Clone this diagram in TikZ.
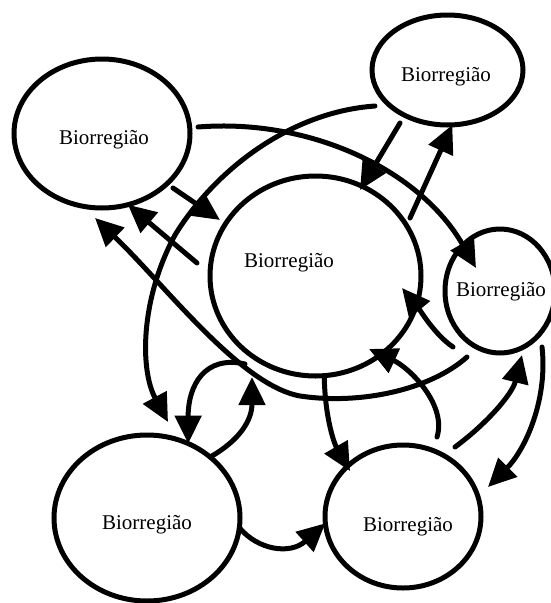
\documentclass[tikz,border=0pt]{standalone}
\usepackage{fontspec}
\setmainfont{Liberation Serif}
\usetikzlibrary{shapes.geometric,arrows.meta}

\begin{document}
\begin{tikzpicture}[x=1pt,y=-1pt,
  region/.style={draw, ellipse, line width=5pt, inner sep=0pt, outer sep=0pt},
  regionlabel/.style={font=\fontsize{21}{25}\selectfont, inner sep=0pt, anchor=base},
  flow/.style={line width=5pt, line cap=round, -{Triangle[length=28pt,width=26pt]}}]

\useasboundingbox (0,0) rectangle (551,603);

% the six regions
\node[region, minimum width=176pt, minimum height=149pt] (tl)  at (102,133.5) {};
\node[region, minimum width=151pt, minimum height=110pt] (tr)  at (447.5,70) {};
\node[region, minimum width=211pt, minimum height=200pt] (ctr) at (315.5,276) {};
\node[region, minimum width=110pt, minimum height=124pt] (rt)  at (500,291) {};
\node[region, minimum width=186pt, minimum height=166pt] (bl)  at (147,518) {};
\node[region, minimum width=156pt, minimum height=143pt] (br)  at (403,516.5) {};

\node[regionlabel] (tlText)  at (104,144) {Biorregião};
\node[regionlabel] (trText)  at (446,81)  {Biorregião};
\node[regionlabel] (ctrText) at (289,267) {Biorregião};
\node[regionlabel] (rtText)  at (501,296) {Biorregião};
\node[regionlabel] (blText)  at (147,529) {Biorregião};
\node[regionlabel] (brText)  at (408,531) {Biorregião};

% free ends of the flows
\coordinate (a0) at (198,127);  \coordinate (a1) at (476,268);
\coordinate (b0) at (375,106);  \coordinate (bm) at (175,235); \coordinate (b1) at (168,422);
\coordinate (c0) at (173,188);  \coordinate (c1) at (220,220);
\coordinate (d0) at (197,263);
\coordinate (e0) at (467,357);  \coordinate (em) at (300,396); \coordinate (e1) at (95,218);
\coordinate (f0) at (400,123);  \coordinate (f1) at (360,190);
\coordinate (g0) at (410,218);
\coordinate (h0) at (453,347);  \coordinate (h1) at (402,288);
\coordinate (i0) at (437,437);  \coordinate (i1) at (369,349);
\coordinate (j1) at (350,471);
\coordinate (k0) at (455,447);  \coordinate (k1) at (522,355);
\coordinate (l0) at (542,347);  \coordinate (l1) at (488,487);
\coordinate (m1) at (252,377);
\coordinate (n0) at (245,364);

% flows between the regions
\draw[flow] (a0) .. controls (310,118) and (420,170) .. (a1);
\draw[flow] (b0) .. controls (290,112) and (215,170) .. (bm)
                 .. controls (140,300) and (140,370) .. (b1);
\draw[flow] (c0) -- (c1);
\draw[flow] (d0) -- (tl.-70);
\draw[flow] (e0) .. controls (430,390) and (360,405) .. (em)
                 .. controls (240,385) and (165,285) .. (e1);
\draw[flow] (f0) -- (f1);
\draw[flow] (g0) -- (tr.-85);
\draw[flow] (h0) .. controls (435,335) and (420,310) .. (h1);
\draw[flow] (i0) .. controls (447,405) and (410,368) .. (i1);
\draw[flow] (ctr.-85) .. controls (325,420) and (335,445) .. (j1);
\draw[flow] (k0) .. controls (485,425) and (512,395) .. (k1);
\draw[flow] (l0) .. controls (548,400) and (525,450) .. (l1);
\draw[flow] (bl.-6) .. controls (258,550) and (290,555) .. (br.185);
\draw[flow] (bl.44) .. controls (240,440) and (252,420) .. (m1);
\draw[flow] (n0) .. controls (205,355) and (188,385) .. (bl.61);

\end{tikzpicture}
\end{document}
